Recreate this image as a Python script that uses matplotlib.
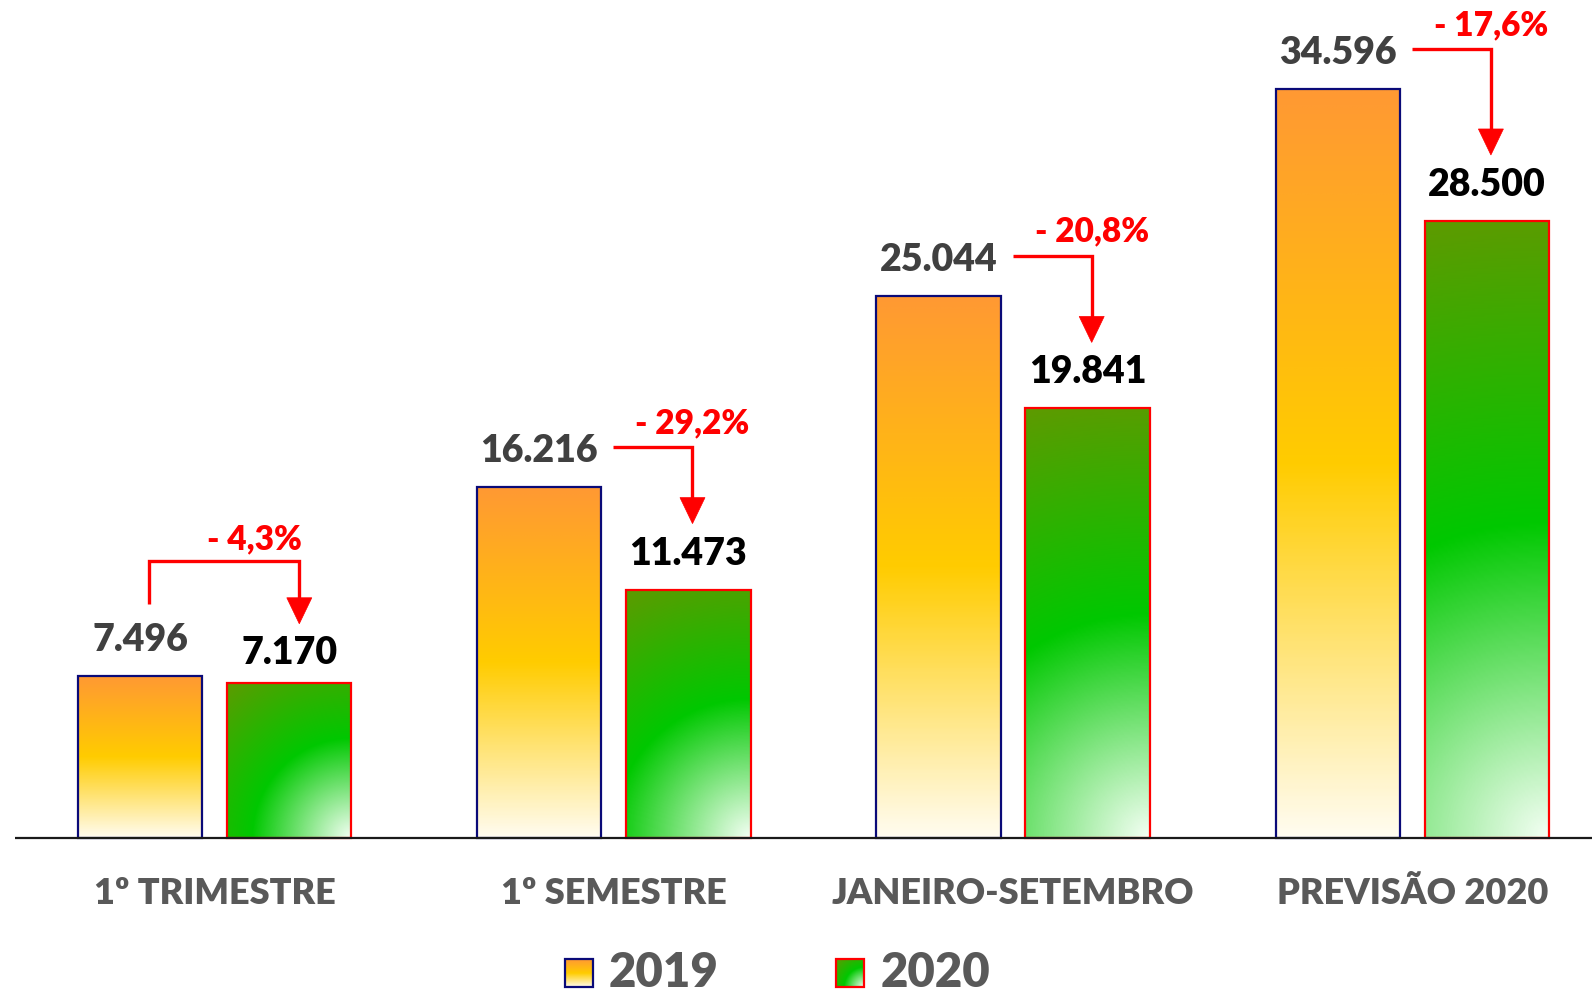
import numpy as np
import matplotlib
matplotlib.use("Agg")
import matplotlib.pyplot as plt
from matplotlib.colors import LinearSegmentedColormap
from matplotlib.patches import Polygon, Rectangle

# ---------------- data ----------------
categories = ["1º TRIMESTRE", "1º SEMESTRE", "JANEIRO-SETEMBRO", "PREVISÃO 2020"]
values_2019 = [7496, 16216, 25044, 34596]
values_2020 = [7170, 11473, 19841, 28500]
pct_labels = ["- 4,3%", "- 29,2%", "- 20,8%", "- 17,6%"]
series_names = ["2019", "2020"]

plt.rcParams['font.family'] = ['Lato', 'DejaVu Sans']
FW = 'heavy'

W, H = 1592, 992
fig = plt.figure(figsize=(W / 100, H / 100), dpi=100)
ax = fig.add_axes([0, 0, 1, 1])
ax.set_axis_off()

# pixel geometry of the plot
BASE = 838.0                     # baseline (px from top)
K = 749.0 / 34596.0              # px per unit
G0, GS = 214.7, 399.2            # first group centre, group spacing (px)

def X(px):
    return (px - G0) / GS

def Y(py):
    return (BASE - py) / K

def PX(x):
    return G0 + x * GS

def PY(v):
    return BASE - v * K

width = 124.4 / GS
off = 74.6 / GS
x = np.arange(len(categories))

cmap19 = LinearSegmentedColormap.from_list(
    "c19", [(0, "#FFFCF0"), (0.5, "#FFCC00"), (1, "#FF9933")])
cmap20 = LinearSegmentedColormap.from_list(
    "c20", [(0, "#F4FFF4"), (0.5, "#00C800"), (1, "#5E9A00")])

bars19 = ax.bar(x - off, values_2019, width, facecolor="none",
                edgecolor="#0A0A78", linewidth=1.6, zorder=4)
bars20 = ax.bar(x + off, values_2020, width, facecolor="none",
                edgecolor="#FF0000", linewidth=1.6, zorder=4)


def grad19(nx=40, ny=300):
    v = np.linspace(0, 1, ny)[:, None] * np.ones((1, nx))
    return cmap19(v)


def grad20(wpx, hpx, nx=120, ny=300):
    u = np.linspace(0, 1, nx)[None, :]
    v = np.linspace(0, 1, ny)[:, None]
    d = np.sqrt((wpx * (1 - u)) ** 2 + (hpx * v) ** 2) / np.sqrt(wpx ** 2 + hpx ** 2)
    return cmap20(np.clip(d, 0, 1))


for r in bars19:
    x0, w, h = r.get_x(), r.get_width(), r.get_height()
    ax.imshow(grad19(), extent=[x0, x0 + w, 0, h], origin="lower",
              aspect="auto", interpolation="bilinear", zorder=3)
for r in bars20:
    x0, w, h = r.get_x(), r.get_width(), r.get_height()
    ax.imshow(grad20(w * GS, h * K), extent=[x0, x0 + w, 0, h], origin="lower",
              aspect="auto", interpolation="bilinear", zorder=3)

# baseline
ax.plot([X(15), X(W)], [0, 0], color="#1A1A1A", lw=1.6, zorder=5,
        solid_capstyle="butt")


def fmt(v):
    return f"{v:,}".replace(",", ".")


# value labels
for i, (r, v) in enumerate(zip(bars19, values_2019)):
    ax.text(r.get_x() + r.get_width() / 2, v + 36 / K, fmt(v), ha="center",
            va="center", fontsize=27, color="#404040", fontweight=FW, zorder=6)
for i, (r, v) in enumerate(zip(bars20, values_2020)):
    dyp = 30 if i == 0 else 36
    ax.text(r.get_x() + r.get_width() / 2, v + dyp / K, fmt(v), ha="center",
            va="center", fontsize=27, color="#000000", fontweight=FW, zorder=6)

# category labels
for i, c in enumerate(categories):
    ax.text(x[i], Y(893), c, ha="center", va="center", fontsize=26,
            color="#595959", fontweight=FW)

RED = "#FF0000"
LW = 2.4
HEAD_W, HEAD_L = 25, 26


def arrow_head(xp, tip_y):
    pts = [(X(xp - HEAD_W / 2), Y(tip_y - HEAD_L)), (X(xp + HEAD_W / 2), Y(tip_y - HEAD_L)),
           (X(xp), Y(tip_y))]
    ax.add_patch(Polygon(pts, closed=True, facecolor=RED, edgecolor=RED, lw=0.5, zorder=7))


for i in range(len(categories)):
    r19, r20 = bars19[i], bars20[i]
    o_right = PX(r19.get_x() + r19.get_width())
    o_cx = PX(r19.get_x() + r19.get_width() / 2)
    g_cx = PX(r20.get_x() + r20.get_width() / 2)
    o_top = PY(values_2019[i])
    g_top = PY(values_2020[i])
    if i == 0:
        sx, sy = o_cx + 9, o_top - 72
        hy = o_top - 115
        lx = g_cx + 10
        tip = g_top - 59
        xs = [sx, sx, lx, lx]
        ys = [sy, hy, hy, tip - HEAD_L + 1]
        tx, ty = 254, hy - 21
    else:
        hy = o_top - 40
        sx = o_right + 12
        lx = g_cx + 4
        tip = g_top - 66
        xs = [sx, lx, lx]
        ys = [hy, hy, tip - HEAD_L + 1]
        tx, ty = lx, hy - 24
    ax.plot([X(p) for p in xs], [Y(p) for p in ys], color=RED, lw=LW,
            solid_joinstyle="miter", solid_capstyle="butt", zorder=7)
    arrow_head(lx, tip)
    ax.text(X(tx), Y(ty), pct_labels[i], ha="center", va="center", fontsize=24,
            color=RED, fontweight=FW, zorder=7)

# legend
leg_items = [(565, 609, "19"), (836, 881, "20")]
for (sq_x, tx_x, key), name in zip(leg_items, series_names):
    s = 28
    top = 959
    if key == "19":
        img = grad19()
        ec = "#0A0A78"
    else:
        img = grad20(s, s)
        ec = "#FF0000"
    ax.imshow(img, extent=[X(sq_x), X(sq_x + s), Y(top + s), Y(top)], origin="lower",
              aspect="auto", interpolation="bilinear", zorder=3)
    ax.add_patch(Rectangle((X(sq_x), Y(top + s)), s / GS, s / K, fill=False,
                           edgecolor=ec, lw=1.6, zorder=4))
    ax.text(X(tx_x), Y(973), name, ha="left", va="center", fontsize=34,
            color="#595959", fontweight=FW)

ax.set_xlim(X(0), X(W))
ax.set_ylim(Y(H), Y(0))

fig.savefig("out.png", dpi=100)
